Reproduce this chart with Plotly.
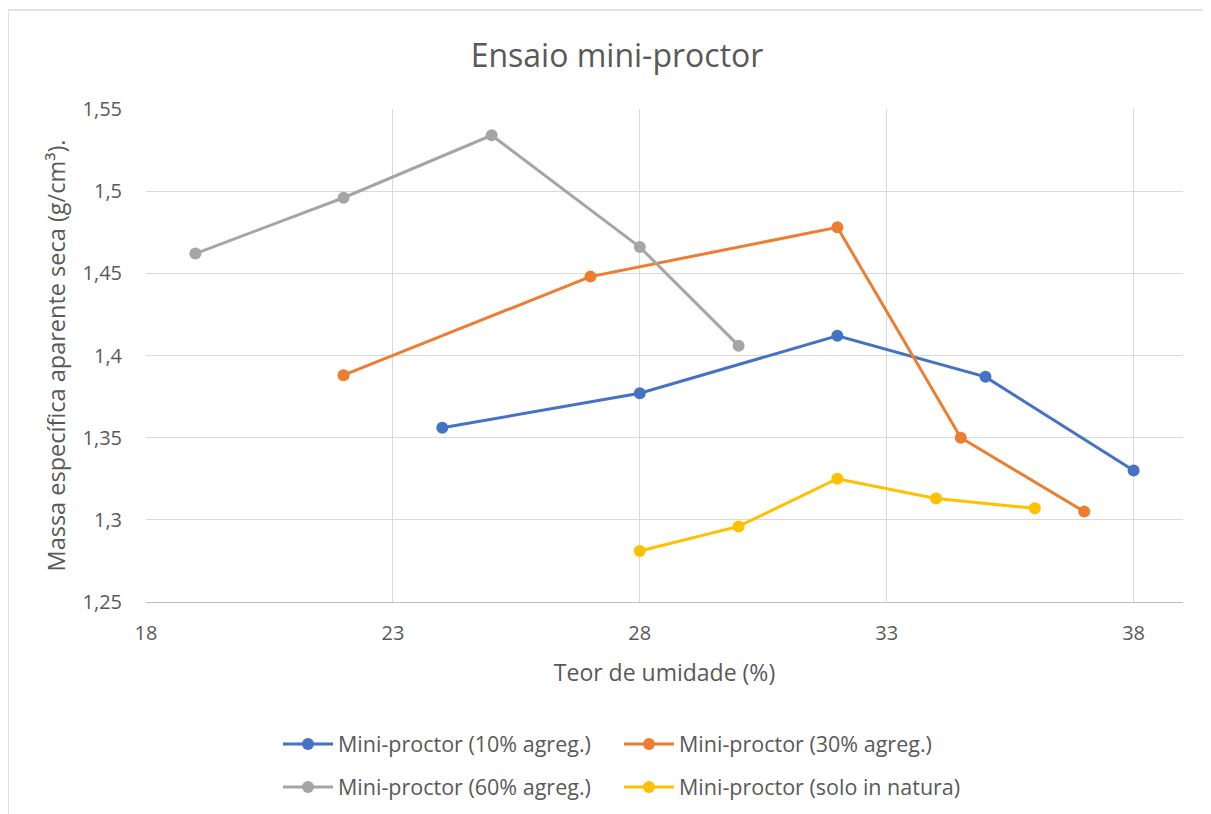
import plotly.graph_objects as go

# Teor de umidade (%) e massa específica aparente seca (g/cm³)
umid_10 = [24, 28, 32, 35, 38]
massa_10 = [1.356, 1.377, 1.412, 1.387, 1.330]

umid_30 = [22, 27, 32, 34.5, 37]
massa_30 = [1.388, 1.448, 1.478, 1.350, 1.305]

umid_60 = [19, 22, 25, 28, 30]
massa_60 = [1.462, 1.496, 1.534, 1.466, 1.406]

umid_nat = [28, 30, 32, 34, 36]
massa_nat = [1.281, 1.296, 1.325, 1.313, 1.307]

x_ticks = [18, 23, 28, 33, 38]
y_ticks = [1.25, 1.30, 1.35, 1.40, 1.45, 1.50, 1.55]
y_ticktext = ["1,25", "1,3", "1,35", "1,4", "1,45", "1,5", "1,55"]

# nome, x, y, cor, legenda (uma legenda por célula da grade 2x2)
series = [
    ("Mini-proctor (10% agreg.)", umid_10, massa_10, "#4472C4", "legend"),
    ("Mini-proctor (30% agreg.)", umid_30, massa_30, "#ED7D31", "legend2"),
    ("Mini-proctor (60% agreg.)", umid_60, massa_60, "#A5A5A5", "legend3"),
    ("Mini-proctor (solo in natura)", umid_nat, massa_nat, "#FFC000", "legend4"),
]

FONT = "'Open Sans', 'Noto Sans', sans-serif"
GREY = "#595959"

# a página tem 8px de margem no body: posições abaixo já descontam isso
OFF = 8
W, H = 1211 - OFF, 814 - OFF
L, T = 146 - OFF, 109 - OFF
R = W - (1183 - OFF)
B = H - (602 - OFF)
pw, ph = W - L - R, H - T - B


def px_x(p):
    return (p - OFF) / W


def px_y(p):
    return 1 - (p - OFF) / H


fig = go.Figure()
for nome, x, y, cor, leg in series:
    fig.add_trace(go.Scatter(
        x=x, y=y, name=nome, mode="lines+markers", legend=leg,
        line=dict(color=cor, width=3),
        marker=dict(color=cor, size=12),
    ))

leg_common = dict(orientation="h", xref="container", yref="container",
                  xanchor="left", yanchor="middle",
                  itemwidth=50, font=dict(size=21.5, color=GREY, family=FONT),
                  bgcolor="rgba(0,0,0,0)")

fig.update_layout(
    width=W, height=H,
    margin=dict(l=L, r=R, t=T, b=B),
    paper_bgcolor="white", plot_bgcolor="white",
    separators=",.",
    font=dict(family=FONT, color=GREY, size=20),
    title=dict(text="Ensaio mini-proctor", x=px_x(617), xanchor="center",
               y=px_y(56), yanchor="middle",
               font=dict(size=32, color=GREY, family=FONT)),
    showlegend=True,
    legend=dict(x=px_x(278), y=px_y(744), **leg_common),
    legend2=dict(x=px_x(619), y=px_y(744), **leg_common),
    legend3=dict(x=px_x(278), y=px_y(787), **leg_common),
    legend4=dict(x=px_x(619), y=px_y(787), **leg_common),
)

fig.update_xaxes(
    range=[18, 39], tickvals=x_ticks, showgrid=True, gridcolor="#D9D9D9",
    gridwidth=1, zeroline=False, showline=True, linecolor="#BFBFBF", linewidth=1,
    ticks="", ticklabelstandoff=13, tickfont=dict(size=20, color=GREY),
    title=dict(text="Teor de umidade (%)", standoff=19,
               font=dict(size=23, color=GREY)),
)
fig.update_yaxes(
    range=[1.25, 1.55], tickvals=y_ticks, ticktext=y_ticktext, showgrid=True,
    gridcolor="#D9D9D9", gridwidth=1, zeroline=False, showline=False,
    ticks="", ticklabelstandoff=23, tickfont=dict(size=20, color=GREY),
    title=dict(text="Massa específica aparente seca (g/cm³).", standoff=10,
               font=dict(size=23.5, color=GREY)),
)

# moldura externa do gráfico
fig.add_shape(type="rect", xref="paper", yref="paper",
              x0=(8 - 146) / pw, x1=(1209 - 146) / pw,
              y0=(602 - 830) / ph, y1=(602 - 10) / ph,
              line=dict(color="#D9D9D9", width=1.5), layer="below")

fig.write_html("out.html")
